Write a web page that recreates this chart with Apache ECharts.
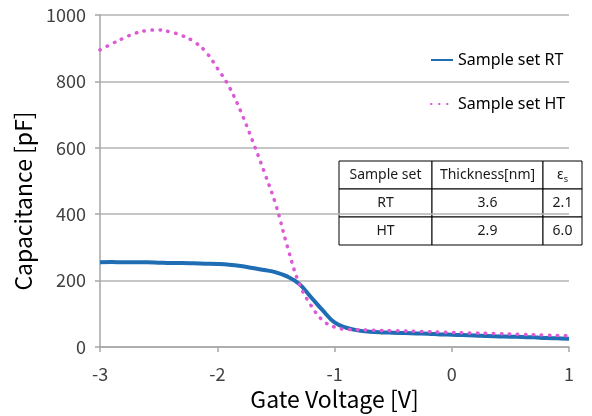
<!DOCTYPE html>
<html>
<head>
<meta charset="utf-8">
<script src="https://cdn.jsdelivr.net/npm/echarts@6/dist/echarts.min.js"></script>
<style>
html, body { margin: 0; padding: 0; background: #fff; }
#chart { width: 592px; height: 416px; }
</style>
</head>
<body>
<div id="chart"></div>
<script>
// gate voltage [V], step 0.1
const voltage = [
    -3.0, -2.9, -2.8, -2.7, -2.6, -2.5, -2.4, -2.3, -2.2, -2.1,
    -2.0, -1.9, -1.8, -1.7, -1.6, -1.5, -1.4, -1.3, -1.2, -1.1,
    -1.0, -0.9, -0.8, -0.7, -0.6, -0.5, -0.4, -0.3, -0.2, -0.1,
    0.0, 0.1, 0.2, 0.3, 0.4, 0.5, 0.6, 0.7, 0.8, 0.9, 1.0
];
// capacitance [pF]
const rtValues = [
    255, 256, 255, 255, 255, 254, 253, 253, 252, 251,
    250, 248, 244, 238, 232, 225, 212, 190, 150, 110,
    74, 58, 50, 46, 44, 43, 42, 41, 40, 38,
    37, 36, 35, 33, 32, 31, 30, 29, 27, 26, 25
];
const htValues = [
    895, 913, 930, 945, 953, 955, 949, 938, 920, 890,
    840, 785, 710, 622, 528, 428, 300, 190, 125, 80,
    60, 53, 52, 51, 50, 49, 48, 47, 46, 45,
    44, 43, 42, 41, 40, 39, 38, 37, 36, 35, 34
];
const seriesNames = ['Sample set RT', 'Sample set HT'];

// 右侧表格
const tableHeader = ['Sample set', 'Thickness[nm]', '{e|ε}{s|s}'];
const tableRows = [
    ['RT', '3.6', '2.1'],
    ['HT', '2.9', '6.0']
];

const chart = echarts.init(document.getElementById('chart'));

function buildTable() {
    const colX = [339, 432, 543, 582];
    const rowY = [161, 189, 217, 245];
    const rows = [tableHeader].concat(tableRows);
    const children = [];
    rows.forEach((row, r) => {
        row.forEach((cell, c) => {
            children.push({
                type: 'rect',
                shape: { x: colX[c], y: rowY[r], width: colX[c + 1] - colX[c], height: rowY[r + 1] - rowY[r] },
                style: { fill: '#fff', stroke: '#000', lineWidth: 1 }
            });
            children.push({
                type: 'text',
                x: (colX[c] + colX[c + 1]) / 2,
                y: (rowY[r] + rowY[r + 1]) / 2,
                style: {
                    text: cell,
                    align: 'center',
                    verticalAlign: 'middle',
                    fontFamily: 'Noto Sans',
                    fontSize: 14,
                    fill: '#1a1a1a',
                    rich: {
                        e: { fontFamily: 'Noto Sans', fontSize: 14, fill: '#1a1a1a' },
                        s: { fontFamily: 'Noto Sans', fontSize: 9, fill: '#1a1a1a', padding: [8, 0, 0, 0] }
                    }
                }
            });
        });
    });
    return [{ type: 'group', z: 10, children: children }];
}

const tickFont = { fontFamily: 'Noto Sans CJK JP', fontSize: 18, color: '#404040' };
const nameFont = { fontFamily: 'Noto Sans CJK JP', fontSize: 23, color: '#000' };

const option = {
    animation: false,
    grid: { left: 100, right: 23, top: 15, bottom: 66 },
    legend: {
        orient: 'vertical',
        left: 425,
        top: 47,
        itemWidth: 22,
        itemHeight: 14,
        itemGap: 28,
        itemStyle: { opacity: 0 },
        textStyle: { fontFamily: 'Noto Sans', fontSize: 16, color: '#000' },
        data: seriesNames
    },
    xAxis: {
        type: 'value',
        min: -3, max: 1, interval: 1,
        name: 'Gate Voltage [V]',
        nameLocation: 'middle',
        nameGap: 41,
        nameTextStyle: nameFont,
        axisLine: { show: true, onZero: false, lineStyle: { color: '#a6a6a6', width: 1.5 } },
        axisTick: { show: true, length: 5, lineStyle: { color: '#a6a6a6', width: 1.5 } },
        axisLabel: Object.assign({ margin: 18 }, tickFont),
        splitLine: { show: false }
    },
    yAxis: {
        type: 'value',
        min: 0, max: 1000, interval: 200,
        name: 'Capacitance [pF]',
        nameLocation: 'middle',
        nameGap: 48,
        nameTextStyle: Object.assign({ padding: [0, 40, 0, 0] }, nameFont),
        axisLine: { show: true, onZero: false, lineStyle: { color: '#a6a6a6', width: 1.5 } },
        axisTick: { show: true, length: 5, lineStyle: { color: '#a6a6a6', width: 1.5 } },
        axisLabel: Object.assign({ margin: 14, formatter: (v) => String(v) }, tickFont),
        splitLine: { show: true, lineStyle: { color: '#b3b3b3', width: 1.5 } }
    },
    series: [
        {
            name: seriesNames[0],
            type: 'line',
            data: voltage.map((v, i) => [v, rtValues[i]]),
            smooth: 0.4,
            showSymbol: false,
            symbol: 'none',
            itemStyle: { color: '#1f6db3' },
            lineStyle: { color: '#1f6db3', width: 4 },
            z: 3
        },
        {
            name: seriesNames[1],
            type: 'line',
            data: voltage.map((v, i) => [v, htValues[i]]),
            smooth: 0.4,
            showSymbol: false,
            symbol: 'none',
            itemStyle: { color: '#dc5ad6' },
            lineStyle: { color: '#dc5ad6', width: 3.5, type: [0.5, 7.5], cap: 'round' },
            z: 4
        }
    ],
    graphic: buildTable()
};

chart.setOption(option);
</script>
</body>
</html>
